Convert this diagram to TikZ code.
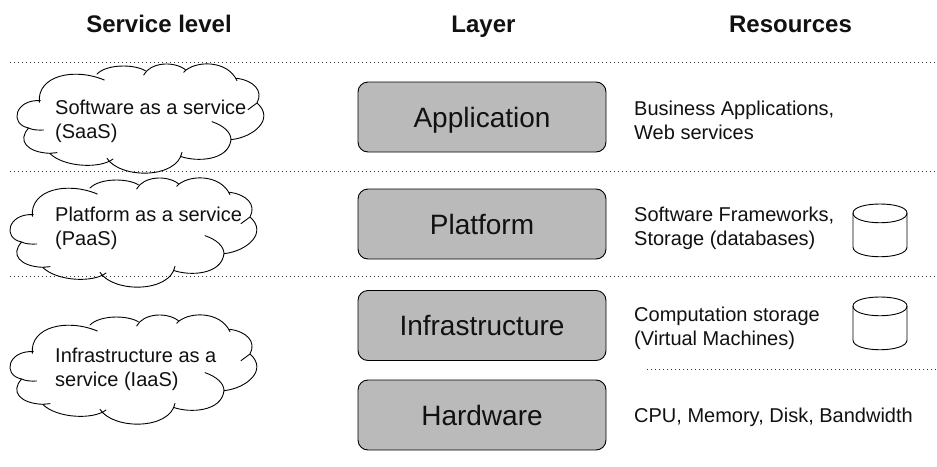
\documentclass[tikz,border=0pt]{standalone}
\usepackage{fontspec}
\setmainfont{Liberation Sans}
\definecolor{boxgrey}{HTML}{BABABA}
\definecolor{ink}{HTML}{111111}
\tikzset{
  sep/.style={line width=1pt,dash pattern=on 1pt off 3pt,black!80},
  layer/.style={draw=black,line width=.9pt,fill=boxgrey,rounded corners=10pt,minimum width=248pt,minimum height=70pt,inner sep=0pt,font=\fontsize{28}{32}\selectfont,text=ink,text height=21pt,text depth=1pt},
  head/.style={font=\fontsize{24}{28}\selectfont\bfseries,text=ink,inner sep=0pt,anchor=base},
  label/.style={font=\fontsize{20}{24}\selectfont,align=left,anchor=west,inner sep=0pt,text=ink},
}
\newcommand{\cloudshape}[2]{%
\begin{scope}[shift={(#1,#2)},x=0.3333pt,y=-0.3333pt]
\fill[white] (97,250) .. controls (25,240) and (5,310) .. (65,327) .. controls (30,365) and (60,410) .. (148,402) .. controls (190,445) and (280,450) .. (318,420) .. controls (370,480) and (510,475) .. (525,400) .. controls (560,435) and (660,425) .. (672,362) .. controls (740,355) and (800,300) .. (750,252) .. controls (770,215) and (740,185) .. (690,178) .. controls (660,125) and (560,125) .. (530,160) .. controls (500,125) and (430,130) .. (410,168) .. controls (380,135) and (300,135) .. (270,165) .. controls (180,150) and (90,180) .. (97,250) -- cycle;
\draw[line width=.9pt,line join=round,line cap=round,draw=black]
  (100,245) .. controls (25,240) and (5,315) .. (65,327) .. controls (75,333) and (95,334) .. (110,333)
  (65,327) .. controls (30,365) and (60,400) .. (128,403) (128,403) -- (150,401)
  (128,403) .. controls (170,445) and (280,450) .. (318,420)
  (300,418) .. controls (340,480) and (510,480) .. (525,400)
  (520,412) .. controls (570,430) and (665,425) .. (672,362) .. controls (672,340) and (650,320) .. (615,308)
  (672,362) .. controls (740,355) and (805,300) .. (750,252) -- (723,272)
  (750,252) .. controls (770,215) and (740,185) .. (690,178)
  (690,185) .. controls (660,120) and (560,125) .. (530,160)
  (535,152) .. controls (500,125) and (430,130) .. (410,168)
  (415,155) .. controls (380,135) and (300,135) .. (270,165)
  (292,183) .. controls (200,145) and (90,170) .. (97,250);
\end{scope}}
\begin{document}
\begin{tikzpicture}[x=1pt,y=-1pt]
\useasboundingbox (0,0) rectangle (937,466);
\fill[white] (0,0) rectangle (937,466);
\coordinate (s1a) at (10,62); \coordinate (s1b) at (937,62);
\coordinate (s2a) at (10,171.5); \coordinate (s2b) at (937,171.5);
\coordinate (s3a) at (10,276.5); \coordinate (s3b) at (937,276.5);
\coordinate (s4a) at (647,369.5); \coordinate (s4b) at (937,369.5);
\draw[sep] (s1a) -- (s1b);
\cloudshape{7}{19}
\cloudshape{0}{133}
\draw[sep] (s2a) -- (s2b);
\draw[sep] (s3a) -- (s3b);
\draw[sep] (s4a) -- (s4b);
\cloudshape{0}{270}
\node[head] (h1) at (159,32.5) {Service level};
\node[head] (h2) at (483.5,32.5) {Layer};
\node[head] (h3) at (790.5,32.5) {Resources};
\node[layer] (l1) at (482,117) {Application};
\node[layer] (l2) at (482,224) {Platform};
\node[layer] (l3) at (482,325.5) {Infrastructure};
\node[layer] (l4) at (482,415) {Hardware};
\node[label] (c1) at (55,121.8) {Software as a service\\(SaaS)};
\node[label] (c2) at (55,228.5) {Platform as a service\\(PaaS)};
\node[label] (c3) at (55,369.5) {Infrastructure as a\\service (IaaS)};
\node[label] (r1) at (634,120) {Business Applications,\\Web services};
\node[label] (r2) at (634,228.5) {Software Frameworks,\\Storage (databases)};
\node[label] (r3) at (634,328.5) {Computation storage\\(Virtual Machines)};
\node[label] (r4) at (634,417.5) {CPU, Memory, Disk, Bandwidth};
\foreach \yy in {204,297}{
\draw[line width=.9pt,fill=white] (853,\yy+9) .. controls (853,\yy-3) and (907,\yy-3) .. (907,\yy+9) -- (907,\yy+43) .. controls (907,\yy+56) and (853,\yy+56) .. (853,\yy+43) -- cycle;
\draw[line width=.9pt] (853,\yy+9) .. controls (853,\yy+22) and (907,\yy+22) .. (907,\yy+9);
}
\end{tikzpicture}
\end{document}
